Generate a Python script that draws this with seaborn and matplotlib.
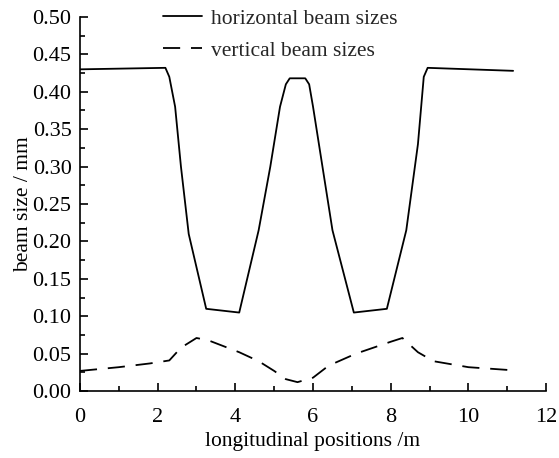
import matplotlib
matplotlib.use("Agg")
import matplotlib.pyplot as plt
import seaborn as sns
import pandas as pd
from matplotlib.ticker import MultipleLocator

h_pos = [0, 2.2, 2.3, 2.45, 2.6, 2.8, 3.25, 4.1, 4.6, 4.9, 5.15, 5.3, 5.4, 5.8, 5.9, 6.0, 6.5, 7.05, 7.9, 8.4, 8.7, 8.85, 8.95, 11.15]
h_size = [0.43, 0.432, 0.42, 0.38, 0.30, 0.21, 0.11, 0.105, 0.215, 0.30, 0.38, 0.41, 0.418, 0.418, 0.41, 0.38, 0.215, 0.105, 0.11, 0.215, 0.33, 0.42, 0.432, 0.428]
v_pos = [0, 1.0, 1.8, 2.3, 2.6, 3.0, 3.3, 4.1, 4.6, 5.0, 5.3, 5.6, 6.0, 6.4, 7.1, 8.0, 8.3, 8.7, 9.1, 10.0, 11.1]
v_size = [0.027, 0.032, 0.037, 0.041, 0.058, 0.071, 0.068, 0.052, 0.04, 0.027, 0.016, 0.012, 0.018, 0.034, 0.05, 0.066, 0.071, 0.052, 0.04, 0.032, 0.028]

sns.set_theme(style="ticks")
plt.rcParams['font.family'] = ['Liberation Serif', 'DejaVu Serif']

fig = plt.figure(figsize=(5.59, 4.58), dpi=100)
ax = fig.add_axes([0.143, 0.146, 0.834, 0.817])

dfh = pd.DataFrame({"x": h_pos, "y": h_size})
dfv = pd.DataFrame({"x": v_pos, "y": v_size})
sns.lineplot(data=dfh, x="x", y="y", ax=ax, color="black", lw=1.3, label="horizontal beam sizes")
sns.lineplot(data=dfv, x="x", y="y", ax=ax, color="black", lw=1.3, label="vertical beam sizes")
ax.lines[1].set_dashes([9.5, 6])

ax.set_xlim(0, 12)
ax.set_ylim(0, 0.5)
ax.xaxis.set_major_locator(MultipleLocator(2))
ax.xaxis.set_minor_locator(MultipleLocator(1))
ax.yaxis.set_major_locator(MultipleLocator(0.05))
ax.yaxis.set_minor_locator(MultipleLocator(0.025))
ax.yaxis.set_major_formatter(matplotlib.ticker.FormatStrFormatter('%.2f'))
ax.tick_params(which='major', direction='in', length=6, width=1.2, labelsize=16, color='black', labelcolor='black', pad=6)
ax.tick_params(axis='x', which='major', pad=12)
ax.tick_params(which='minor', direction='in', length=3.5, width=1.2, color='black')
for s in ['top', 'right']:
    ax.spines[s].set_visible(False)
for s in ['left', 'bottom']:
    ax.spines[s].set_linewidth(1.2)
    ax.spines[s].set_color('black')
ax.set_xlabel("longitudinal positions /m", fontsize=15.5, color='black', labelpad=4)
ax.set_ylabel("beam size / mm", fontsize=15.5, color='black', labelpad=0)

leg = ax.legend(loc='upper left', bbox_to_anchor=(0.178, 1.022), frameon=False, fontsize=15.5,
                handlelength=1.8, handletextpad=0.45, labelspacing=0.55, borderpad=0, borderaxespad=0)
fig.savefig("out.png", dpi=100)
